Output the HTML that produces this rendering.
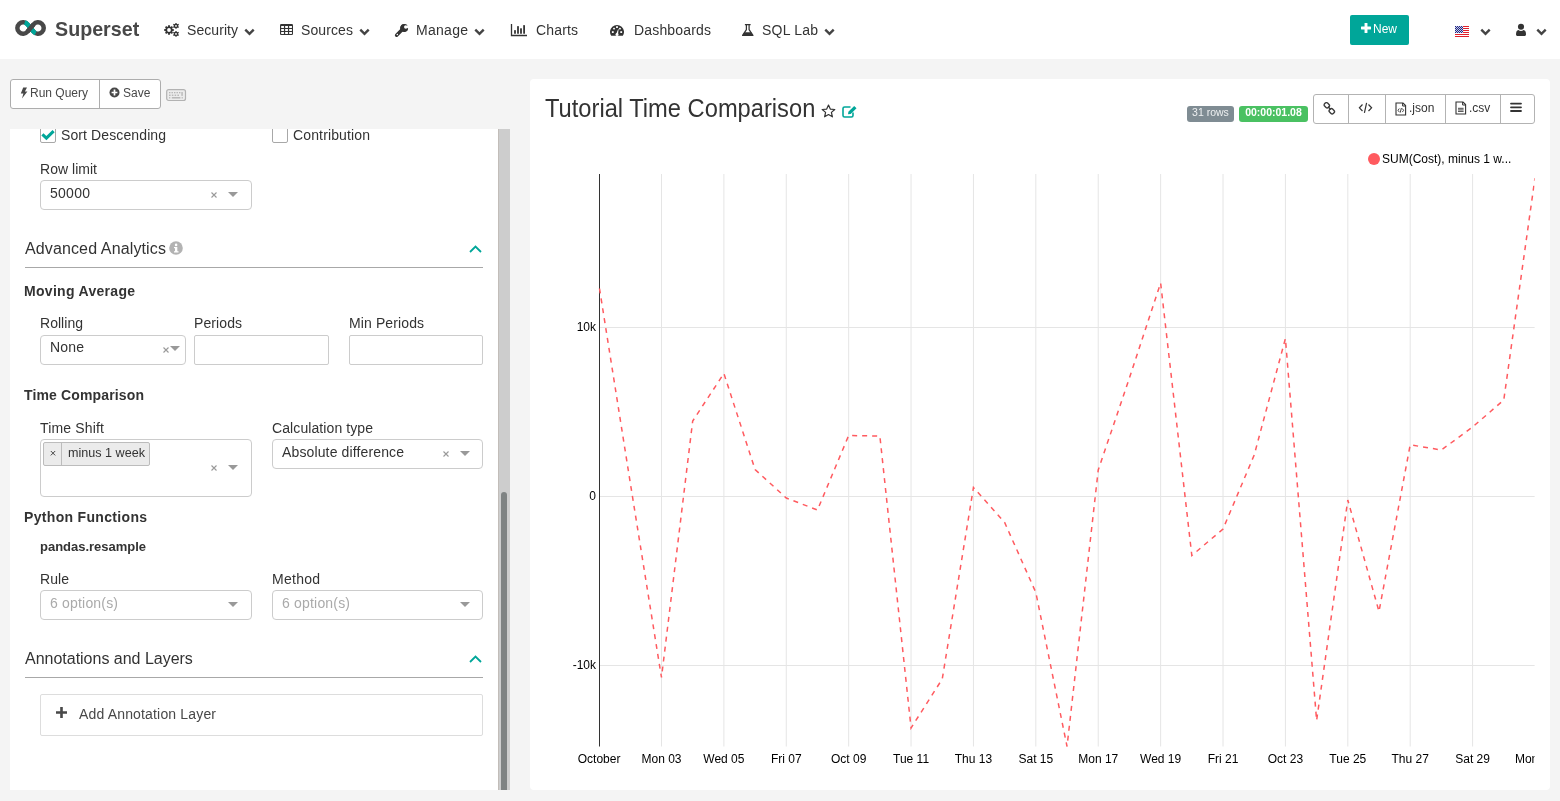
<!DOCTYPE html>
<html><head><meta charset="utf-8">
<style>
*{box-sizing:border-box;margin:0;padding:0}
html,body{width:1560px;height:801px;overflow:hidden}
body{will-change:transform;background:#f4f4f4;font-family:"Liberation Sans",sans-serif;color:#484848;font-size:14px;position:relative}
.abs{position:absolute}
#nav{position:absolute;left:0;top:0;width:1560px;height:59px;background:#fff}
.nt{position:absolute;top:22px;font-size:14px;line-height:16px;color:#333;white-space:nowrap}
.chev{position:absolute;width:11px;height:8px}
#left{position:absolute;left:10px;top:129px;width:488px;height:661px;background:#fff;overflow:hidden}
#sb{position:absolute;left:498px;top:129px;width:12px;height:661px;background:#cdcdcd;border-left:1px solid #c2bdb9}
#thumb{position:absolute;left:501px;top:492px;width:6px;height:298px;background:#7f8383;border-radius:3px 3px 0 0}
#chart{position:absolute;left:530px;top:79px;width:1020px;height:711px;background:#fff;border-radius:4px}
.lbl{position:absolute;font-size:14px;line-height:16px;color:#484848;white-space:nowrap}
.hdr{position:absolute;font-size:14px;line-height:16px;font-weight:bold;color:#333;white-space:nowrap}
.sec{position:absolute;font-size:16px;line-height:18px;color:#333;white-space:nowrap}
.sel{position:absolute;border:1px solid #ccc;border-radius:4px;background:#fff}
.inp{position:absolute;border:1px solid #ccc;border-radius:2px;background:#fff}
.btn{position:absolute;border:1px solid #b4b4b4;background:#fff}
.t{position:absolute;white-space:nowrap}
.a{position:absolute}
.cb{position:absolute;width:16px;height:16px;border:1px solid #a8a8a8;border-radius:2px;background:#fff}
.hl{position:absolute;background:#a8a8a8}
.arr{position:absolute;width:0;height:0;border-style:solid;border-width:5px 5px 0 5px;border-color:#999 transparent transparent transparent}
.tag{position:absolute;background:#ebebeb;border:1px solid #bcbcbc;border-radius:2px}
.tagsep{position:absolute;background:#bcbcbc}
.ann{position:absolute;border:1px solid #ddd;border-radius:2px;background:#fff}
</style></head><body>
<div id="nav">
<svg class="abs" style="left:0;top:0" width="60" height="59" viewBox="0 0 60 59">
<path d="M27.54 31.66 L33.56 24.34 A5.75 5.75 0 1 1 33.56 31.66 L27.54 24.34 A5.75 5.75 0 1 0 27.54 31.66 Z" fill="none" stroke="#484848" stroke-width="4.5"/>
<path d="M27.54 31.66 L33.56 24.34 A5.75 5.75 0 1 1 33.56 31.66 L27.54 24.34 A5.75 5.75 0 1 0 27.54 31.66 Z" fill="none" stroke="#00a699" stroke-width="4.6" stroke-dasharray="0 34.2 15.6 1000"/>
<line x1="27.54" y1="31.66" x2="33.56" y2="24.34" stroke="#484848" stroke-width="4.5"/>
</svg>
<div class="abs" style="left:55px;top:16px;font-size:20.5px;line-height:24px;font-weight:bold;color:#484848;transform:scale(0.96,1.03);transform-origin:0 0">Superset</div>
<!-- Security -->
<svg class="abs" style="left:163px;top:21px" width="17" height="17" viewBox="0 0 17 17">
<g fill="#333">
<circle cx="6" cy="9" r="3.6"/>
<g stroke="#333" stroke-width="1.9"><line x1="6" y1="4.2" x2="6" y2="13.8"/><line x1="1.2" y1="9" x2="10.8" y2="9"/><line x1="2.6" y1="5.6" x2="9.4" y2="12.4"/><line x1="2.6" y1="12.4" x2="9.4" y2="5.6"/></g>
<circle cx="13" cy="4.9" r="2.2"/><g stroke="#333" stroke-width="1.3"><line x1="13" y1="2" x2="13" y2="7.8"/><line x1="10.3" y1="3.4" x2="15.7" y2="6.4"/><line x1="10.3" y1="6.4" x2="15.7" y2="3.4"/></g>
<circle cx="13" cy="12.9" r="2.2"/><g stroke="#333" stroke-width="1.3"><line x1="13" y1="10" x2="13" y2="15.8"/><line x1="10.3" y1="11.4" x2="15.7" y2="14.4"/><line x1="10.3" y1="14.4" x2="15.7" y2="11.4"/></g>
</g>
<circle cx="6" cy="9" r="1.9" fill="#fff"/><circle cx="13" cy="4.9" r="0.9" fill="#fff"/><circle cx="13" cy="12.9" r="0.9" fill="#fff"/>
</svg>
<div class="nt" style="left:187px;letter-spacing:0.062px">Security</div>
<svg class="chev" style="left:244px;top:28px" viewBox="0 0 11 8"><path d="M1.3 1.6 L5.5 5.8 L9.7 1.6" fill="none" stroke="#444" stroke-width="2.4"/></svg>
<!-- Sources -->
<svg class="abs" style="left:280px;top:24px" width="13" height="11" viewBox="0 0 13 11">
<rect x="0" y="0" width="13" height="11" rx="1.3" fill="#333"/><rect x="1.1" y="1.9" width="2.9" height="2.1" rx="0.4" fill="#fff"/><rect x="5.1" y="1.9" width="2.9" height="2.1" rx="0.4" fill="#fff"/><rect x="9.1" y="1.9" width="2.9" height="2.1" rx="0.4" fill="#fff"/><rect x="1.1" y="4.9" width="2.9" height="2.1" rx="0.4" fill="#fff"/><rect x="5.1" y="4.9" width="2.9" height="2.1" rx="0.4" fill="#fff"/><rect x="9.1" y="4.9" width="2.9" height="2.1" rx="0.4" fill="#fff"/><rect x="1.1" y="7.9" width="2.9" height="2.1" rx="0.4" fill="#fff"/><rect x="5.1" y="7.9" width="2.9" height="2.1" rx="0.4" fill="#fff"/><rect x="9.1" y="7.9" width="2.9" height="2.1" rx="0.4" fill="#fff"/>
</svg>
<div class="nt" style="left:301px;letter-spacing:0.109px">Sources</div>
<svg class="chev" style="left:359px;top:28px" viewBox="0 0 11 8"><path d="M1.3 1.6 L5.5 5.8 L9.7 1.6" fill="none" stroke="#444" stroke-width="2.4"/></svg>
<!-- Manage -->
<svg class="abs" style="left:394px;top:22px" width="15" height="16" viewBox="0 0 15 16">
<path d="M2.6 13.2 L8 7.8" stroke="#333" stroke-width="3.4" stroke-linecap="round"/>
<path d="M12.6 3.2 A3.9 3.9 0 1 0 13.7 7.4 L12.2 6.8 A1.7 1.7 0 1 1 11.3 4.3 Z" fill="#333"/>
<circle cx="10.3" cy="5.8" r="3.9" fill="#333"/>
<circle cx="11.8" cy="5" r="1.8" fill="#fff"/>
<path d="M11.8 5 L15 2 L15 7 Z" fill="#fff"/>
<circle cx="3.3" cy="12.6" r="0.75" fill="#fff"/>
</svg>
<div class="nt" style="left:416px;letter-spacing:0.287px">Manage</div>
<svg class="chev" style="left:474px;top:28px" viewBox="0 0 11 8"><path d="M1.3 1.6 L5.5 5.8 L9.7 1.6" fill="none" stroke="#444" stroke-width="2.4"/></svg>
<!-- Charts -->
<svg class="abs" style="left:510px;top:23px" width="18" height="14" viewBox="0 0 18 14">
<path d="M1.5 1 V12.5 H17" fill="none" stroke="#333" stroke-width="1.3"/>
<g fill="#333"><rect x="4.1" y="7.1" width="1.8" height="3.7" rx="0.4"/><rect x="7.1" y="3" width="1.8" height="7.8" rx="0.4"/><rect x="10.1" y="5.2" width="1.8" height="5.6" rx="0.4"/><rect x="13.2" y="2.1" width="1.8" height="8.7" rx="0.4"/></g>
</svg>
<div class="nt" style="left:536px;letter-spacing:0.156px">Charts</div>
<!-- Dashboards -->
<svg class="abs" style="left:609px;top:23px" width="16" height="14" viewBox="0 0 16 14">
<path d="M2.2 12.8 A7 7 0 1 1 13.8 12.8 Z" fill="#333"/>
<g fill="#fff"><rect x="2.9" y="8.2" width="1.8" height="1.8"/><rect x="4.2" y="4.8" width="1.7" height="1.7" transform="rotate(45 5.05 5.65)"/><rect x="7.1" y="3.2" width="1.8" height="1.8"/><rect x="10.1" y="4.8" width="1.7" height="1.7" transform="rotate(45 10.95 5.65)"/><rect x="11.3" y="8.2" width="1.8" height="1.8"/></g>
<path d="M7 11.4 L9.2 6 L9.6 6.2 L9 11.6 Z" fill="#fff"/><circle cx="8" cy="11.4" r="1.5" fill="#fff"/>
</svg>
<div class="nt" style="left:634px;letter-spacing:0.172px">Dashboards</div>
<!-- SQL Lab -->
<svg class="abs" style="left:741px;top:23px" width="14" height="14" viewBox="0 0 14 14">
<path d="M3.9 1.6 H9.6 M5.4 1.6 V6.6 L1.6 12.4 H11.9 L8.1 6.6 V1.6" fill="none" stroke="#333" stroke-width="1.25" stroke-linejoin="round"/>
<path d="M3.3 9.3 H10.2 L12.1 12.7 H1.4 Z" fill="#333"/>
</svg>
<div class="nt" style="left:762px;letter-spacing:0.211px">SQL Lab</div>
<svg class="chev" style="left:824px;top:28px" viewBox="0 0 11 8"><path d="M1.3 1.6 L5.5 5.8 L9.7 1.6" fill="none" stroke="#444" stroke-width="2.4"/></svg>
<!-- New -->
<div class="abs" style="left:1350px;top:15px;width:59px;height:30px;background:#00a699;border-radius:2px"></div>
<svg class="abs" style="left:1361px;top:23px" width="10" height="10" viewBox="0 0 10 10"><path d="M5 0.6 V9.4 M0.6 5 H9.4" stroke="#fff" stroke-width="2.9" stroke-linecap="round"/></svg>
<div class="abs" style="left:1373px;top:22px;font-size:12px;line-height:14px;color:#fff">New</div>
<!-- flag -->
<svg class="abs" style="left:1455px;top:26px" width="14" height="11" viewBox="0 0 14 11" shape-rendering="crispEdges">
<rect width="14" height="11" fill="#fff"/><rect y="0" width="14" height="1" fill="#e0202c"/><rect y="2" width="14" height="1" fill="#e0202c"/><rect y="4" width="14" height="1" fill="#e0202c"/><rect y="6" width="14" height="1" fill="#e0202c"/><rect y="8" width="14" height="1" fill="#e0202c"/><rect y="10" width="14" height="1" fill="#e0202c"/>
<rect width="8" height="7" fill="#1f2a84"/><rect x="1" y="0" width="1" height="1" fill="#c8c8e6"/><rect x="3" y="0" width="1" height="1" fill="#c8c8e6"/><rect x="5" y="0" width="1" height="1" fill="#c8c8e6"/><rect x="7" y="0" width="1" height="1" fill="#c8c8e6"/><rect x="0" y="1" width="1" height="1" fill="#c8c8e6"/><rect x="2" y="1" width="1" height="1" fill="#c8c8e6"/><rect x="4" y="1" width="1" height="1" fill="#c8c8e6"/><rect x="6" y="1" width="1" height="1" fill="#c8c8e6"/><rect x="1" y="2" width="1" height="1" fill="#c8c8e6"/><rect x="3" y="2" width="1" height="1" fill="#c8c8e6"/><rect x="5" y="2" width="1" height="1" fill="#c8c8e6"/><rect x="7" y="2" width="1" height="1" fill="#c8c8e6"/><rect x="0" y="3" width="1" height="1" fill="#c8c8e6"/><rect x="2" y="3" width="1" height="1" fill="#c8c8e6"/><rect x="4" y="3" width="1" height="1" fill="#c8c8e6"/><rect x="6" y="3" width="1" height="1" fill="#c8c8e6"/><rect x="1" y="4" width="1" height="1" fill="#c8c8e6"/><rect x="3" y="4" width="1" height="1" fill="#c8c8e6"/><rect x="5" y="4" width="1" height="1" fill="#c8c8e6"/><rect x="7" y="4" width="1" height="1" fill="#c8c8e6"/><rect x="0" y="5" width="1" height="1" fill="#c8c8e6"/><rect x="2" y="5" width="1" height="1" fill="#c8c8e6"/><rect x="4" y="5" width="1" height="1" fill="#c8c8e6"/><rect x="6" y="5" width="1" height="1" fill="#c8c8e6"/><rect x="1" y="6" width="1" height="1" fill="#c8c8e6"/><rect x="3" y="6" width="1" height="1" fill="#c8c8e6"/><rect x="5" y="6" width="1" height="1" fill="#c8c8e6"/><rect x="7" y="6" width="1" height="1" fill="#c8c8e6"/>
</svg>
<svg class="chev" style="left:1480px;top:28px" viewBox="0 0 11 8"><path d="M1.3 1.6 L5.5 5.8 L9.7 1.6" fill="none" stroke="#444" stroke-width="2.4"/></svg>
<!-- user -->
<svg class="abs" style="left:1515px;top:23px" width="12" height="14" viewBox="0 0 12 14">
<circle cx="6" cy="3.8" r="3.05" fill="#333"/>
<path d="M1 11.6 Q1 7.3 3.4 7 Q4.6 7.9 6 7.9 Q7.4 7.9 8.6 7 Q11 7.3 11 11.6 Q11 13 9.8 13 H2.2 Q1 13 1 11.6 Z" fill="#333"/>
</svg>
<svg class="chev" style="left:1536px;top:28px" viewBox="0 0 11 8"><path d="M1.3 1.6 L5.5 5.8 L9.7 1.6" fill="none" stroke="#444" stroke-width="2.4"/></svg>
</div>
<div id="left">
<div class="cb" style="left:30px;top:-2px"></div><svg class="a" style="left:30px;top:-2px" width="16" height="16" viewBox="0 0 16 16"><path d="M2.4 7.4 L6.4 11.2 L13.6 4.2" fill="none" stroke="#00a699" stroke-width="3"/></svg>
<div class="t" style="left:51px;top:-2px;font-size:14px;line-height:16px;letter-spacing:0.109px;color:#333;">Sort Descending</div>
<div class="cb" style="left:262px;top:-2px"></div>
<div class="t" style="left:283px;top:-2px;font-size:14px;line-height:16px;letter-spacing:0.141px;color:#333;">Contribution</div>
<div class="t" style="left:30px;top:32px;font-size:14px;line-height:16px;letter-spacing:0.029px;color:#333;">Row limit</div>
<div class="sel" style="left:30px;top:51px;width:212px;height:30px;"></div>
<div class="t" style="left:40px;top:56px;font-size:14px;line-height:16px;letter-spacing:0.273px;color:#333;">50000</div>
<svg class="a" style="left:200.5px;top:62.5px" width="6" height="6" viewBox="0 0 6 6"><path d="M0.5 0.5L5.5 5.5M5.5 0.5L0.5 5.5" stroke="#999" stroke-width="1.1"/></svg>
<div class="arr" style="left:218px;top:63px"></div>
<div class="t" style="left:15px;top:111px;font-size:16px;line-height:18px;letter-spacing:0.126px;color:#333;">Advanced Analytics</div>
<svg class="a" style="left:159px;top:112px" width="14" height="14" viewBox="0 0 14 14"><circle cx="7" cy="7" r="6.8" fill="#b3b3b3"/><rect x="6" y="6" width="2.3" height="5" fill="#fff"/><rect x="5" y="6" width="3" height="1.2" fill="#fff"/><rect x="5" y="10.2" width="4.5" height="1.3" fill="#fff"/><circle cx="7.1" cy="3.9" r="1.3" fill="#fff"/></svg>
<svg class="a" style="left:458.5px;top:116px" width="13" height="8" viewBox="0 0 13 8"><path d="M1 7 L6.5 1.6 L12 7" fill="none" stroke="#00a699" stroke-width="1.8"/></svg>
<div class="hl" style="left:15px;top:138px;width:458px;height:1px;"></div>
<div class="t" style="left:14px;top:154px;font-size:14px;line-height:16px;font-weight:bold;letter-spacing:0.303px;color:#333;">Moving Average</div>
<div class="t" style="left:30px;top:186px;font-size:14px;line-height:16px;letter-spacing:0.036px;color:#333;">Rolling</div>
<div class="t" style="left:184px;top:186px;font-size:14px;line-height:16px;letter-spacing:0.091px;color:#333;">Periods</div>
<div class="t" style="left:339px;top:186px;font-size:14px;line-height:16px;letter-spacing:0.111px;color:#333;">Min Periods</div>
<div class="sel" style="left:30px;top:206px;width:146px;height:30px;"></div>
<div class="t" style="left:40px;top:210px;font-size:14px;line-height:16px;letter-spacing:0.182px;color:#333;">None</div>
<svg class="a" style="left:152.5px;top:217.5px" width="6" height="6" viewBox="0 0 6 6"><path d="M0.5 0.5L5.5 5.5M5.5 0.5L0.5 5.5" stroke="#999" stroke-width="1.1"/></svg>
<div class="arr" style="left:160px;top:217px"></div>
<div class="inp" style="left:184px;top:206px;width:135px;height:30px;"></div>
<div class="inp" style="left:339px;top:206px;width:134px;height:30px;"></div>
<div class="t" style="left:14px;top:258px;font-size:14px;line-height:16px;font-weight:bold;letter-spacing:0.145px;color:#333;">Time Comparison</div>
<div class="t" style="left:30px;top:291px;font-size:14px;line-height:16px;letter-spacing:0.168px;color:#333;">Time Shift</div>
<div class="t" style="left:262px;top:291px;font-size:14px;line-height:16px;letter-spacing:0.095px;color:#333;">Calculation type</div>
<div class="sel" style="left:30px;top:310px;width:212px;height:58px;"></div>
<div class="tag" style="left:33px;top:313px;width:107px;height:24px;"></div>
<div class="tagsep" style="left:51px;top:313px;width:1px;height:24px;"></div>
<svg class="a" style="left:40px;top:321px" width="6" height="6" viewBox="0 0 6 6"><path d="M0.8 1L5.2 5.4M5.2 1L0.8 5.4" stroke="#444" stroke-width="1"/></svg>
<div class="t" style="left:58px;top:317px;font-size:13px;line-height:15px;letter-spacing:0.045px;color:#333;font-size:12.6px;letter-spacing:0">minus 1 week</div>
<svg class="a" style="left:200.5px;top:335.5px" width="6" height="6" viewBox="0 0 6 6"><path d="M0.5 0.5L5.5 5.5M5.5 0.5L0.5 5.5" stroke="#999" stroke-width="1.1"/></svg>
<div class="arr" style="left:218px;top:336px"></div>
<div class="sel" style="left:262px;top:310px;width:211px;height:30px;"></div>
<div class="t" style="left:272px;top:315px;font-size:14px;line-height:16px;letter-spacing:0.135px;color:#333;">Absolute difference</div>
<svg class="a" style="left:432.5px;top:321.5px" width="6" height="6" viewBox="0 0 6 6"><path d="M0.5 0.5L5.5 5.5M5.5 0.5L0.5 5.5" stroke="#999" stroke-width="1.1"/></svg>
<div class="arr" style="left:450px;top:322px"></div>
<div class="t" style="left:14px;top:380px;font-size:14px;line-height:16px;font-weight:bold;letter-spacing:0.323px;color:#333;">Python Functions</div>
<div class="t" style="left:30px;top:410px;font-size:13px;line-height:15px;font-weight:bold;letter-spacing:-0.017px;color:#333;">pandas.resample</div>
<div class="t" style="left:30px;top:442px;font-size:14px;line-height:16px;letter-spacing:0.073px;color:#333;">Rule</div>
<div class="t" style="left:262px;top:442px;font-size:14px;line-height:16px;letter-spacing:0.266px;color:#333;">Method</div>
<div class="sel" style="left:30px;top:461px;width:212px;height:30px;"></div>
<div class="t" style="left:40px;top:466px;font-size:14px;line-height:16px;letter-spacing:0.189px;color:#aaa;">6 option(s)</div>
<div class="arr" style="left:218px;top:473px"></div>
<div class="sel" style="left:262px;top:461px;width:211px;height:30px;"></div>
<div class="t" style="left:272px;top:466px;font-size:14px;line-height:16px;letter-spacing:0.189px;color:#aaa;">6 option(s)</div>
<div class="arr" style="left:450px;top:473px"></div>
<div class="t" style="left:15px;top:521px;font-size:16px;line-height:18px;letter-spacing:-0.012px;color:#333;">Annotations and Layers</div>
<svg class="a" style="left:458.5px;top:526px" width="13" height="8" viewBox="0 0 13 8"><path d="M1 7 L6.5 1.6 L12 7" fill="none" stroke="#00a699" stroke-width="1.8"/></svg>
<div class="hl" style="left:15px;top:548px;width:458px;height:1px;"></div>
<div class="ann" style="left:30px;top:565px;width:443px;height:42px;"></div>
<svg class="a" style="left:46px;top:578px" width="11" height="11" viewBox="0 0 11 11"><path d="M5.5 0 V11 M0 5.5 H11" stroke="#484848" stroke-width="2.6"/></svg>
<div class="t" style="left:69px;top:577px;font-size:14px;line-height:16px;letter-spacing:0.166px;color:#484848;">Add Annotation Layer</div>
</div>
<div id="sb"></div><div id="thumb"></div>
<div id="chart"></div>
<!--CHART-->
<div class="t" style="left:545px;top:95px;font-size:23.7px;line-height:28px;color:#333;transform:scaleY(1.055);transform-origin:0 22px">Tutorial Time Comparison</div>
<svg class="a" style="left:821px;top:104px" width="15" height="14" viewBox="0 0 15 14"><path d="M7.5 1 L9.3 5.1 L13.8 5.5 L10.4 8.4 L11.4 12.8 L7.5 10.5 L3.6 12.8 L4.6 8.4 L1.2 5.5 L5.7 5.1 Z" fill="none" stroke="#333" stroke-width="1.2" stroke-linejoin="round"/></svg>
<svg class="a" style="left:842px;top:105px" width="16" height="13" viewBox="0 0 16 13"><path d="M8.5 2 H2.6 Q1 2 1 3.6 V10.4 Q1 12 2.6 12 H9.4 Q11 12 11 10.4 V7.5" fill="none" stroke="#00a699" stroke-width="1.6"/><path d="M6 9.2 L6.4 6.8 L12.2 1 L14.5 3.3 L8.7 9.1 Z" fill="#00a699"/></svg>
<div class="a" style="left:1187px;top:106px;width:47px;height:16px;background:#7f8c93;border-radius:3px"></div>
<div class="t" style="left:1187px;top:106px;width:47px;text-align:center;font-size:10.5px;line-height:12px;color:#eef0f1">31 rows</div>
<div class="a" style="left:1239px;top:106px;width:69px;height:16px;background:#4ac162;border-radius:3px"></div>
<div class="t" style="left:1239px;top:106px;width:69px;text-align:center;font-size:10.5px;line-height:12px;font-weight:bold;color:#fff">00:00:01.08</div>
<div class="a" style="left:1313px;top:94px;width:222px;height:30px;border:1px solid #b3b3b3;border-radius:3px;background:#fff"></div>
<div class="a" style="left:1348px;top:94px;width:1px;height:30px;background:#b3b3b3"></div>
<div class="a" style="left:1385px;top:94px;width:1px;height:30px;background:#b3b3b3"></div>
<div class="a" style="left:1445px;top:94px;width:1px;height:30px;background:#b3b3b3"></div>
<div class="a" style="left:1500px;top:94px;width:1px;height:30px;background:#b3b3b3"></div>
<svg class="a" style="left:1323.3px;top:101.8px" width="13" height="13" viewBox="0 0 13 13"><g fill="none" stroke="#3a3a3a" stroke-width="1.4"><rect x="1.2" y="1.2" width="5.2" height="4.2" rx="1.6" transform="rotate(45 3.8 3.3)"/><rect x="6.2" y="7.2" width="5.2" height="4.2" rx="1.6" transform="rotate(45 8.8 9.3)"/><line x1="5" y1="4.8" x2="7.8" y2="7.6"/></g></svg>
<svg class="a" style="left:1358px;top:102px" width="15" height="12" viewBox="0 0 15 12"><g fill="none" stroke="#333" stroke-width="1.2"><path d="M4.5 2.5 L1.4 5.8 L4.5 9"/><path d="M10.5 2.5 L13.6 5.8 L10.5 9"/><path d="M8.6 0.8 L6.4 10.8"/></g></svg>
<svg class="a" style="left:1395px;top:101.5px" width="12" height="14" viewBox="0 0 12 14"><path d="M1 1 H8 L10.6 3.6 V13 H1 Z" fill="none" stroke="#333" stroke-width="1.1"/><path d="M7.6 1 V4 H10.6" fill="none" stroke="#333" stroke-width="1"/><path d="M4.3 6.5 L3 8.3 L4.3 10.1 M7.3 6.5 L8.6 8.3 L7.3 10.1 M6.4 6 L5.2 10.6" fill="none" stroke="#333" stroke-width="0.9"/></svg>
<div class="t" style="left:1409px;top:101px;font-size:12px;line-height:14px;color:#333">.json</div>
<svg class="a" style="left:1455px;top:101px" width="12" height="14" viewBox="0 0 12 14"><path d="M1 1 H8 L10.6 3.6 V13 H1 Z" fill="none" stroke="#333" stroke-width="1.1"/><path d="M7.6 1 V4 H10.6" fill="none" stroke="#333" stroke-width="1"/><path d="M3 7.3 H8.6 M3 8.9 H8.6 M3 10.4 H8.6" stroke="#333" stroke-width="0.9"/></svg>
<div class="t" style="left:1469px;top:101px;font-size:12px;line-height:14px;color:#333">.csv</div>
<svg class="a" style="left:1510px;top:102px" width="12" height="11" viewBox="0 0 12 11"><path d="M1 1.6 H11 M1 5.3 H11 M1 9 H11" stroke="#333" stroke-width="1.8" stroke-linecap="round"/></svg>
<div class="a" style="left:10px;top:79px;width:151px;height:30px;border:1px solid #adadad;border-radius:3px;background:#fff"></div>
<div class="a" style="left:99px;top:79px;width:1px;height:30px;background:#adadad"></div>
<svg class="a" style="left:20px;top:87px" width="8" height="12" viewBox="0 0 8 12"><path d="M3.2 0.4 H7 L4.9 4.6 H7.4 L2 11.6 L3.4 6.4 H0.8 Z" fill="#484848"/></svg>
<div class="t" style="left:30px;top:86px;font-size:12px;line-height:14px;color:#484848">Run Query</div>
<svg class="a" style="left:109px;top:87px" width="11" height="11" viewBox="0 0 11 11"><circle cx="5.5" cy="5.5" r="5" fill="#484848"/><path d="M5.5 2.6 V8.4 M2.6 5.5 H8.4" stroke="#fff" stroke-width="1.7"/></svg>
<div class="t" style="left:123px;top:86px;font-size:12px;line-height:14px;color:#484848">Save</div>
<svg class="a" style="left:166px;top:88px" width="21" height="14" viewBox="0 0 21 14"><rect x="0.7" y="1.7" width="18.8" height="10.8" rx="2" fill="#ececec" stroke="#b2b2b2" stroke-width="1.2"/><g fill="#b4b4b4"><rect x="3" y="4" width="1.4" height="1.3"/><rect x="5.5" y="4" width="1.4" height="1.3"/><rect x="8" y="4" width="1.4" height="1.3"/><rect x="10.5" y="4" width="1.4" height="1.3"/><rect x="13" y="4" width="1.4" height="1.3"/><rect x="3" y="6.6" width="1.6" height="1.3"/><rect x="5.8" y="6.6" width="1.6" height="1.3"/><rect x="8.6" y="6.6" width="1.6" height="1.3"/><rect x="11.4" y="6.6" width="1.6" height="1.3"/><rect x="15.4" y="4" width="1.3" height="3.9"/><rect x="3" y="9.2" width="1.3" height="1.2"/><rect x="5.8" y="9.1" width="8.6" height="1.4"/><rect x="15.6" y="9.2" width="1.3" height="1.2"/></g></svg>
<svg class="a" style="left:530px;top:79px" width="1020" height="711" viewBox="530 79 1020 711">
<defs><clipPath id="cp"><rect x="540" y="140" width="994.6" height="640"/></clipPath></defs>
<g clip-path="url(#cp)">
<line x1="661.49" y1="174" x2="661.49" y2="746.5" stroke="#e5e5e5" stroke-width="1"/>
<line x1="723.88" y1="174" x2="723.88" y2="746.5" stroke="#e5e5e5" stroke-width="1"/>
<line x1="786.28" y1="174" x2="786.28" y2="746.5" stroke="#e5e5e5" stroke-width="1"/>
<line x1="848.67" y1="174" x2="848.67" y2="746.5" stroke="#e5e5e5" stroke-width="1"/>
<line x1="911.06" y1="174" x2="911.06" y2="746.5" stroke="#e5e5e5" stroke-width="1"/>
<line x1="973.45" y1="174" x2="973.45" y2="746.5" stroke="#e5e5e5" stroke-width="1"/>
<line x1="1035.84" y1="174" x2="1035.84" y2="746.5" stroke="#e5e5e5" stroke-width="1"/>
<line x1="1098.24" y1="174" x2="1098.24" y2="746.5" stroke="#e5e5e5" stroke-width="1"/>
<line x1="1160.63" y1="174" x2="1160.63" y2="746.5" stroke="#e5e5e5" stroke-width="1"/>
<line x1="1223.02" y1="174" x2="1223.02" y2="746.5" stroke="#e5e5e5" stroke-width="1"/>
<line x1="1285.41" y1="174" x2="1285.41" y2="746.5" stroke="#e5e5e5" stroke-width="1"/>
<line x1="1347.80" y1="174" x2="1347.80" y2="746.5" stroke="#e5e5e5" stroke-width="1"/>
<line x1="1410.20" y1="174" x2="1410.20" y2="746.5" stroke="#e5e5e5" stroke-width="1"/>
<line x1="1472.59" y1="174" x2="1472.59" y2="746.5" stroke="#e5e5e5" stroke-width="1"/>
<line x1="599.5" y1="327.5" x2="1535" y2="327.5" stroke="#e5e5e5" stroke-width="1"/>
<line x1="599.5" y1="496.5" x2="1535" y2="496.5" stroke="#e5e5e5" stroke-width="1"/>
<line x1="599.5" y1="665.5" x2="1535" y2="665.5" stroke="#e5e5e5" stroke-width="1"/>
<line x1="599.5" y1="174" x2="599.5" y2="746.5" stroke="#333" stroke-width="1"/>
<text x="599.10" y="763" text-anchor="middle" font-size="12" fill="#000">October</text>
<text x="661.49" y="763" text-anchor="middle" font-size="12" fill="#000">Mon 03</text>
<text x="723.88" y="763" text-anchor="middle" font-size="12" fill="#000">Wed 05</text>
<text x="786.28" y="763" text-anchor="middle" font-size="12" fill="#000">Fri 07</text>
<text x="848.67" y="763" text-anchor="middle" font-size="12" fill="#000">Oct 09</text>
<text x="911.06" y="763" text-anchor="middle" font-size="12" fill="#000">Tue 11</text>
<text x="973.45" y="763" text-anchor="middle" font-size="12" fill="#000">Thu 13</text>
<text x="1035.84" y="763" text-anchor="middle" font-size="12" fill="#000">Sat 15</text>
<text x="1098.24" y="763" text-anchor="middle" font-size="12" fill="#000">Mon 17</text>
<text x="1160.63" y="763" text-anchor="middle" font-size="12" fill="#000">Wed 19</text>
<text x="1223.02" y="763" text-anchor="middle" font-size="12" fill="#000">Fri 21</text>
<text x="1285.41" y="763" text-anchor="middle" font-size="12" fill="#000">Oct 23</text>
<text x="1347.80" y="763" text-anchor="middle" font-size="12" fill="#000">Tue 25</text>
<text x="1410.20" y="763" text-anchor="middle" font-size="12" fill="#000">Thu 27</text>
<text x="1472.59" y="763" text-anchor="middle" font-size="12" fill="#000">Sat 29</text>
<text x="1534.98" y="763" text-anchor="middle" font-size="12" fill="#000">Mon 31</text>
<text x="596" y="330.7" text-anchor="end" font-size="12" fill="#000">10k</text>
<text x="596" y="499.7" text-anchor="end" font-size="12" fill="#000">0</text>
<text x="596" y="668.7" text-anchor="end" font-size="12" fill="#000">-10k</text>
<path d="M599.50 288.50 L630.30 483.00 L661.49 677.50 L692.69 421.00 L723.88 373.50 L755.08 469.50 L786.28 498.00 L817.47 510.00 L848.67 435.50 L879.86 436.00 L911.06 728.00 L942.26 679.00 L973.45 487.50 L1004.65 522.50 L1035.84 592.50 L1067.04 746.50 L1098.24 470.00 L1129.43 378.00 L1160.63 283.00 L1191.82 555.50 L1223.02 529.00 L1254.22 455.00 L1285.41 338.50 L1316.61 720.50 L1347.80 500.00 L1379.00 611.50 L1410.20 444.80 L1441.39 450.00 L1472.59 427.00 L1503.78 400.00 L1534.98 178.00" fill="none" stroke="#ff5a5f" stroke-width="1.5" stroke-dasharray="5,5"/>
</g>
<circle cx="1374" cy="159" r="6" fill="#ff5a5f"/>
<text x="1382" y="162.8" font-size="12" fill="#000">SUM(Cost), minus 1 w...</text>
</svg>
<!--/CHART-->
</body></html>
